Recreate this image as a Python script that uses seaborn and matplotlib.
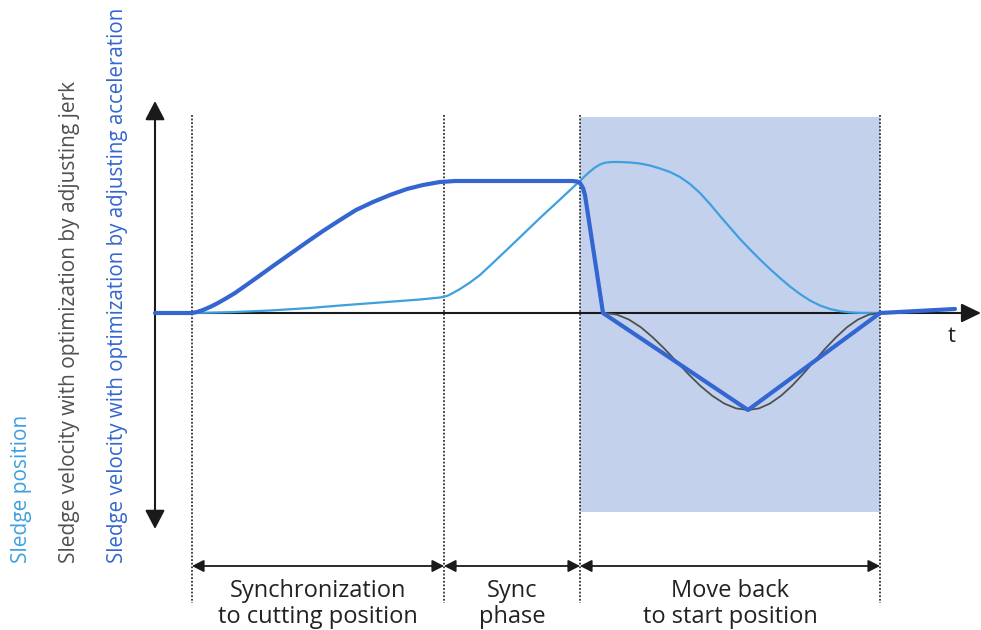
import matplotlib
matplotlib.use("Agg")
import matplotlib.pyplot as plt
import seaborn as sns
import pandas as pd

# ---------------- data (time t, value v; arbitrary diagram units) ----------------
pos_t = [37, 75, 115, 155, 185, 225, 265, 285, 292, 297, 305, 315, 325, 340, 360,
         385, 405, 420, 425, 430, 435, 440, 445, 450, 457, 465, 475, 485, 495, 505,
         515, 525, 535, 545, 555, 565, 575, 585, 595, 605, 615, 625, 635, 645, 655,
         665, 675, 685, 695, 705, 722]
pos_v = [0, 0.8, 2.5, 5, 7.5, 10.5, 13.5, 15.5, 17, 19.5, 24, 30.5, 38, 52, 71,
         95, 113.5, 127.5, 132, 137, 141.5, 145.5, 148.5, 150.3, 151, 151, 150.5, 149.5, 147.5, 144.5,
         141, 136, 129, 120, 109, 97, 85.5, 74, 63.5, 53.5, 44, 35, 26.5, 19, 12.5,
         7.5, 4, 1.8, 0.6, 0.1, 0]

acc_t = [0, 37, 42, 48, 55, 62, 70, 80, 90, 102, 118, 135, 152, 168, 185, 201, 218,
         235, 252, 268, 285, 300, 417, 422, 425, 428, 430, 448, 593, 725, 800]
acc_v = [0, 0, 1, 3, 6, 9.5, 14, 20, 27, 35.5, 47, 59, 71, 82, 93, 103, 111,
         118, 124, 128, 131, 132, 132, 131.5, 130, 125, 118, 0, -97, 0, 4]

jerk_t = [450, 461.9, 473.8, 485.8, 497.7, 509.6, 521.5, 533.4, 545.3, 557.3, 569.2,
          581.1, 593, 604, 615, 626, 637, 648, 659, 670, 681, 692, 703, 714, 725]
jerk_v = [0, -1.6, -6.5, -14.2, -24.3, -35.9, -48.5, -61.1, -72.8, -82.8, -90.5,
          -95.4, -97, -95.4, -90.5, -82.8, -72.8, -61.1, -48.5, -35.9, -24.3, -14.2,
          -6.5, -1.6, 0]

phase_bounds = [37, 289, 425, 725]
phase_labels = ["Synchronization\nto cutting position", "Sync\nphase",
                "Move back\nto start position"]
axis_labels = ["Sledge position",
               "Sledge velocity with optimization by adjusting jerk",
               "Sledge velocity with optimization by adjusting acceleration"]

# ---------------- styling ----------------
sns.set_theme(style="white")
plt.rcParams["font.family"] = ["Open Sans", "DejaVu Sans"]

C_POS = "#3ea0e0"
C_JERK = "#505050"
C_ACC = "#3366d0"
C_SHADE = "#c4d1ec"

fig = plt.figure(figsize=(9.81, 6.3), dpi=100)
ax = fig.add_axes([0, 0, 1, 1])

# shaded "move back" region
ax.add_patch(plt.Rectangle((phase_bounds[2], -199), phase_bounds[3] - phase_bounds[2],
                           395, facecolor=C_SHADE, edgecolor="none", zorder=0))

# dotted phase boundaries
for b in phase_bounds:
    ax.plot([b, b], [198, -290], color="#333333", lw=1.3,
            linestyle=(0, (1, 1)), zorder=1)

# axes with arrows
ax.annotate("", xy=(826, 0), xytext=(0, 0),
            arrowprops=dict(arrowstyle="-|>,head_length=12,head_width=5.8",
                            mutation_scale=1, color="#1a1a1a", lw=1.5,
                            shrinkA=0, shrinkB=0), zorder=2)
ax.annotate("", xy=(0, 212), xytext=(0, -216),
            arrowprops=dict(arrowstyle="<|-|>,head_length=11.5,head_width=6",
                            mutation_scale=1, color="#1a1a1a", lw=1.5,
                            shrinkA=0, shrinkB=0), zorder=2)
ax.text(797, -23, "t", fontsize=16, color="#222222", ha="center", va="center")

# curves
df_pos = pd.DataFrame({"t": pos_t, "v": pos_v})
df_acc = pd.DataFrame({"t": acc_t, "v": acc_v})
df_jerk = pd.DataFrame({"t": jerk_t, "v": jerk_v})
sns.lineplot(data=df_pos, x="t", y="v", ax=ax, color=C_POS, lw=1.6,
             sort=False, estimator=None, zorder=3)
sns.lineplot(data=df_jerk, x="t", y="v", ax=ax, color=C_JERK, lw=1.3,
             sort=False, estimator=None, zorder=4)
sns.lineplot(data=df_acc, x="t", y="v", ax=ax, color=C_ACC, lw=3.0,
             sort=False, estimator=None, zorder=5)
ax.set_xlim(-155, 826)
ax.set_ylim(-317, 313)
ax.axis("off")

# phase arrows and labels
for i, lab in enumerate(phase_labels):
    a, b = phase_bounds[i], phase_bounds[i + 1]
    ax.annotate("", xy=(b, -253), xytext=(a, -253),
                arrowprops=dict(arrowstyle="<|-|>,head_length=7,head_width=3.6",
                                mutation_scale=1, color="#1a1a1a", lw=1.3,
                                shrinkA=0, shrinkB=0))
    ax.text((a + b) / 2, -291, lab, fontsize=17, color="#222222",
            ha="center", va="center", linespacing=1.12)

# rotated side labels
for x, lab, c, fs in zip([-134, -86, -38], axis_labels, [C_POS, C_JERK, C_ACC],
                         [15, 15, 14.8]):
    ax.text(x, -250, lab, rotation=90, rotation_mode="anchor", ha="left",
            va="center", fontsize=fs, color=c)

fig.savefig("out.png", dpi=100)
